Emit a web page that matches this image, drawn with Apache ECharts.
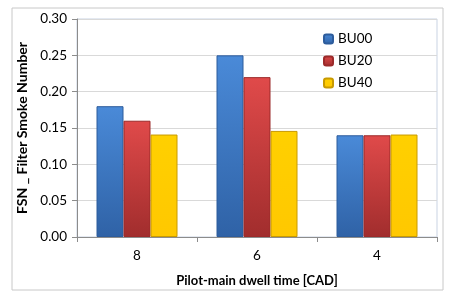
<!DOCTYPE html>
<html><head><meta charset="utf-8">
<script src="https://cdn.jsdelivr.net/npm/echarts@6/dist/echarts.min.js"></script>
<style>html,body{margin:0;padding:0;background:#fff}#c{width:467px;height:308px}</style>
</head><body><div id="c"></div>
<script>
var categories = ['8', '6', '4'];
var seriesNames = ['BU00', 'BU20', 'BU40'];
var bu00 = [0.18, 0.25, 0.14];
var bu20 = [0.16, 0.22, 0.14];
var bu40 = [0.141, 0.146, 0.141];
var yTicks = [0, 0.05, 0.10, 0.15, 0.20, 0.25, 0.30];

function grad(a, b) {
  return new echarts.graphic.LinearGradient(0, 0, 0, 1, [{offset: 0, color: a}, {offset: 1, color: b}]);
}
var styles = [
  {color: grad('#4a8ad8', '#2f62a6'), borderColor: '#2d5c9c'},
  {color: grad('#e04a4a', '#a12d2d'), borderColor: '#9c2a2a'},
  {color: grad('#ffd000', '#ffc800'), borderColor: '#c89a00'}
];
var datas = [bu00, bu20, bu40];
var font = 'Lato, "Open Sans", sans-serif';
var chart = echarts.init(document.getElementById('c'), null, {renderer: 'canvas'});
chart.setOption({
  animation: false,
  graphic: [{type: 'rect', shape: {x: 12, y: 8, width: 431, height: 282}, style: {fill: 'none', stroke: '#c8c8c8', lineWidth: 1}, silent: true},
            {type: 'rect', shape: {x: 77, y: 19, width: 360, height: 218}, style: {fill: 'none', stroke: '#c9d3e3', lineWidth: 1}, silent: true, z: 0}],
  grid: {left: 77, right: 30, top: 19, bottom: 71, containLabel: false},
  legend: {
    orient: 'vertical', left: 318, top: 27, itemWidth: 9, itemHeight: 9, itemGap: 8,
    textStyle: {fontFamily: font, fontSize: 13.5, color: '#000'},
    data: seriesNames
  },
  xAxis: {
    type: 'category', data: categories,
    axisLine: {lineStyle: {color: '#8c8c8c'}},
    axisTick: {show: true, length: 5, lineStyle: {color: '#8c8c8c'}},
    axisLabel: {fontFamily: font, fontSize: 13.5, color: '#000', margin: 12},
    name: 'Pilot-main dwell time [CAD]', nameLocation: 'middle', nameGap: 37,
    nameTextStyle: {fontFamily: font, fontSize: 13, fontWeight: 'bold', color: '#000'}
  },
  yAxis: {
    type: 'value', min: 0, max: 0.30, interval: 0.05,
    axisLine: {show: true, lineStyle: {color: '#8c8c8c'}},
    axisTick: {show: true, length: 5, inside: false, lineStyle: {color: '#8c8c8c'}},
    splitLine: {lineStyle: {color: '#d9d9d9'}},
    axisLabel: {fontFamily: font, fontSize: 13.5, color: '#000', margin: 10, formatter: function (v) { return v.toFixed(2); }},
    name: 'FSN _ Filter Smoke Number', nameLocation: 'middle', nameGap: 43,
    nameTextStyle: {fontFamily: font, fontSize: 14, fontWeight: 'bold', color: '#000'}
  },
  series: seriesNames.map(function (n, i) {
    return {
      name: n, type: 'bar', data: datas[i], barWidth: 27, barGap: '0%',
      itemStyle: {color: styles[i].color, borderColor: styles[i].borderColor, borderWidth: 1}
    };
  })
});
</script></body></html>
